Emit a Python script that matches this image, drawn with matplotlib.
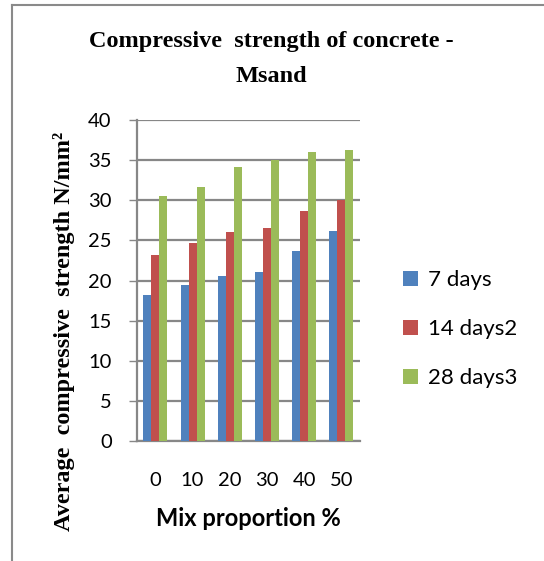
import matplotlib
matplotlib.use('agg')
import matplotlib.pyplot as plt
from matplotlib.lines import Line2D
import numpy as np

# mix proportions (% Msand) and strengths in N/mm^2
MIX = ['0', '10', '20', '30', '40', '50']
DAYS_7 = [18.2, 19.5, 20.5, 21.0, 23.7, 26.2]
DAYS_14 = [23.2, 24.7, 26.0, 26.5, 28.7, 30.0]
DAYS_28 = [30.5, 31.7, 34.2, 35.0, 36.0, 36.2]
SERIES = ['7 days', '14 days2', '28 days3']
COLORS = ['#4F81BD', '#C0504D', '#9BBB59']

GRID = '#878787'
SANS = ['Lato', 'DejaVu Sans']
SERIF = ['Liberation Serif', 'DejaVu Serif']


def main():
    fig = plt.figure(figsize=(5.44, 5.61), dpi=100)
    ax = fig.add_axes([0.2513, 0.2139, 0.4105, 0.5722])

    x = np.arange(len(MIX))
    w = 0.215
    for i, (vals, name, col) in enumerate(zip([DAYS_7, DAYS_14, DAYS_28], SERIES, COLORS)):
        ax.bar(x + (i - 1) * w, vals, w, color=col, label=name, zorder=3)

    ax.set_xlim(-0.5, len(MIX) - 0.5)
    ax.set_ylim(0, 40)
    ax.set_yticks(range(0, 41, 5))
    ax.set_xticks(x)
    ax.set_xticklabels(MIX)
    ax.yaxis.grid(True, color=GRID, linewidth=1.6, zorder=0)

    for s in ['top', 'right']:
        ax.spines[s].set_visible(False)
    for s in ['left', 'bottom']:
        ax.spines[s].set_color(GRID)
        ax.spines[s].set_linewidth(1.6)
    ax.tick_params(axis='y', length=6, width=1, color=GRID, pad=12)
    ax.tick_params(axis='x', length=0, pad=22)
    for lab in ax.get_xticklabels() + ax.get_yticklabels():
        lab.set_family(SANS)
        lab.set_fontsize(14.5)

    ax.set_xlabel('Mix proportion %', family=SANS, fontsize=17,
                  fontweight='bold', labelpad=13)
    fig.text(0.118, 0.41, 'Average  compressive  strength N/mm\u00b2',
             rotation=90, ha='center', va='center', family=SERIF,
             fontsize=17.5, fontweight='bold')

    fig.text(0.498, 0.9162, 'Compressive  strength of concrete -', ha='center',
             va='baseline', family=SERIF, fontsize=17.5, fontweight='bold')
    fig.text(0.498, 0.8538, 'Msand', ha='center', va='baseline', family=SERIF,
             fontsize=17.5, fontweight='bold')

    fig.legend(loc='upper left', bbox_to_anchor=(0.721, 0.538),
               frameon=False, prop={'family': SANS, 'size': 16},
               borderpad=0, handlelength=0.65, handleheight=0.65,
               handletextpad=0.45, labelspacing=1.3)

    # chart frame (top and left edges)
    fig.add_artist(Line2D([0.0225, 0.0225], [0, 0.991], color='#8a8a8a',
                          linewidth=1.5, transform=fig.transFigure))
    fig.add_artist(Line2D([0.0225, 1], [0.991, 0.991], color='#8a8a8a',
                          linewidth=1.5, transform=fig.transFigure))

    plt.savefig('out.png', dpi=100)


if __name__ == '__main__':
    main()
